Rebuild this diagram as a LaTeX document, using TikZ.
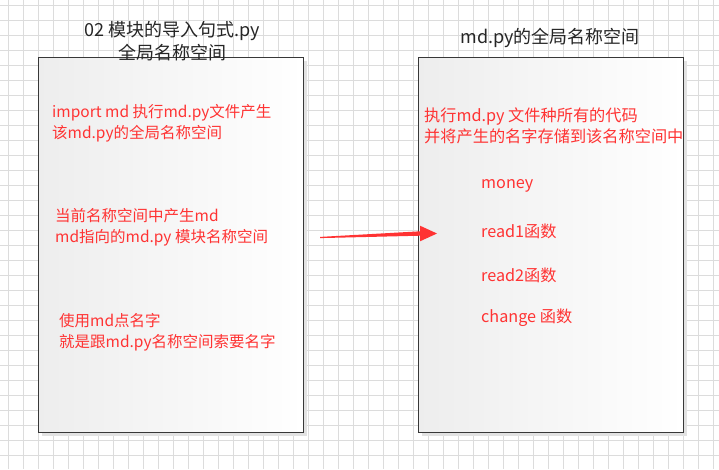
\documentclass[tikz,border=0pt]{standalone}
\usepackage{fontspec}
\setmainfont{Noto Sans CJK SC}
\usepackage{tikz}
\usetikzlibrary{calc,shadows}

\definecolor{nsred}{HTML}{FF3333}
\definecolor{gridgray}{HTML}{DCDCDC}
\definecolor{shadowgray}{HTML}{E2E2E2}
\definecolor{titlegray}{HTML}{262626}

\begin{document}
\begin{tikzpicture}[x=1pt,y=-1pt,
    gridline/.style={gridgray,line width=0.8pt},
    nsbox/.style={draw=black!78,line width=1.2pt,left color=black!7,right color=white,
      minimum width=265pt,minimum height=375pt,inner sep=0pt,anchor=north west,
      drop shadow={shadow xshift=3pt,shadow yshift=-3pt,fill=shadowgray,opacity=1}},
    nstitle/.style={titlegray,align=center,font=\fontsize{18}{23}\selectfont},
    nstext/.style={nsred,align=left,anchor=west,inner sep=0pt,font=\fontsize{15.5}{21}\selectfont},
    nsbig/.style={nstext,font=\fontsize{16.2}{21.5}\selectfont}]
    \useasboundingbox (0,0) rectangle (719,469);
    \fill[white] (0,0) rectangle (719,469);
    % background grid
    \foreach \gx in {8,23,...,713} \draw[gridline] (\gx,0) -- (\gx,469);
    \foreach \gy in {5,20,...,465} \draw[gridline] (0,\gy) -- (719,\gy);

    % the two name spaces
    \node[nsbox] (mainns) at (38,57) {};
    \node[nsbox] (mdns) at (418,57) {};
    \node[nstitle] (maintitle) at (172,41.5) {02 模块的导入句式.py\\全局名称空间};
    \node[nstitle] (mdtitle) at (550,38) {md.py的全局名称空间};

    % left box
    \node[nstext] (importtxt) at (52,123) {import md 执行md.py文件产生\\该md.py的全局名称空间};
    \node[nstext] (mdnametxt) at (55,227.5) {当前名称空间中产生md\\md指向的md.py 模块名称空间};
    \node[nstext] (dottxt) at (59,332) {使用md点名字\\就是跟md.py名称空间索要名字};

    % right box
    \node[nsbig] (runtxt) at (424,126) {执行md.py 文件种所有的代码\\并将产生的名字存储到该名称空间中};
    \node[nsbig] (money) at (481,186) {money};
    \node[nsbig] (readone) at (481,231) {read1函数};
    \node[nsbig] (readtwo) at (481,275) {read2函数};
    \node[nsbig] (change) at (481,318) {change 函数};

    % arrow
    \coordinate (arrS) at (320,237.5);
    \coordinate (arrB) at (420,233.5);
    \coordinate (arrT) at (437,233.5);
    \fill[nsred] ($(arrS)+(0,-0.6)$) -- ($(arrB)+(0,-2.2)$) -- ($(arrB)+(0,-7.8)$) -- (arrT)
      -- ($(arrB)+(0,7.8)$) -- ($(arrB)+(0,2.2)$) -- ($(arrS)+(0,0.6)$) -- cycle;
\end{tikzpicture}
\end{document}
